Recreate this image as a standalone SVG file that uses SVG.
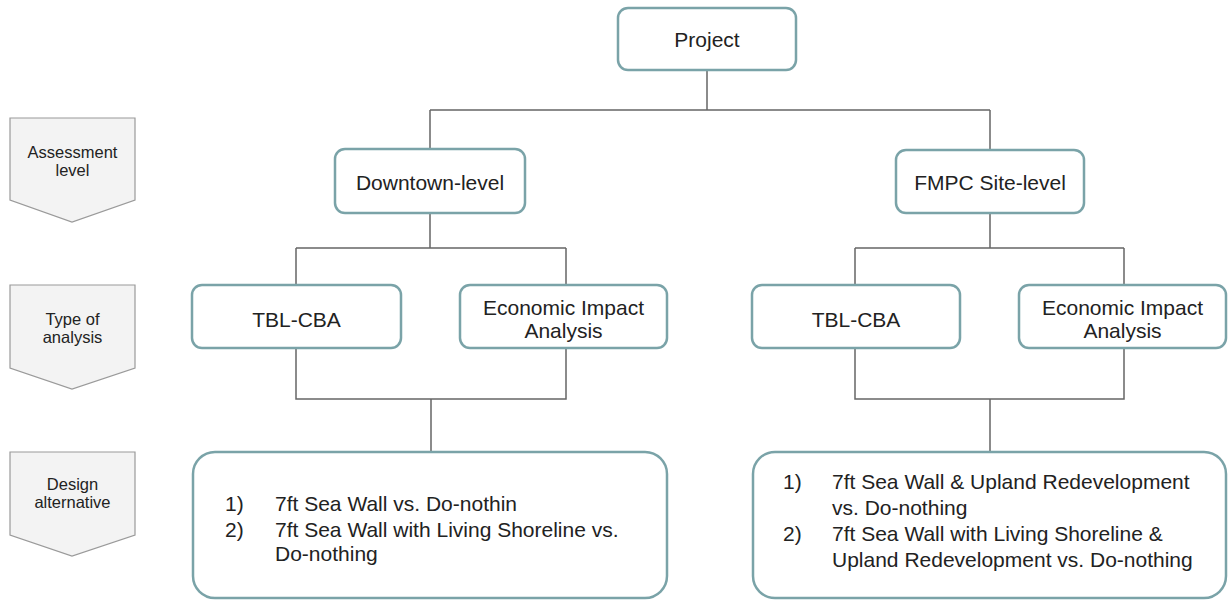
<svg xmlns="http://www.w3.org/2000/svg" width="1228" height="603" viewBox="0 0 1228 603">
<style>
.node{fill:#ffffff;stroke:#7aa3a8;stroke-width:2.5}
.lvl{fill:#f3f3f3;stroke:#9a9a9a;stroke-width:1.2}
.conn{fill:none;stroke:#666666;stroke-width:1.5}
text{font-family:"Liberation Sans",Arial,sans-serif;fill:#222222}
.t{font-size:21px;text-anchor:middle}
.l{font-size:16.5px;text-anchor:middle}
.b{font-size:21px}
</style>
<rect width="1228" height="603" fill="#ffffff"/>
<g id="connectors">
<path class="conn" d="M707 70V110M430 110H990M430 110V149M990 110V150"/>
<path class="conn" d="M430 213V248M296 248H566M296 248V285M566 248V285"/>
<path class="conn" d="M990 213V248M855 248H1124M855 248V285M1124 248V285"/>
<path class="conn" d="M296 348V399H566V348M431 399V452"/>
<path class="conn" d="M855 348V399H1124V348M990 399V452"/>
</g>
<g id="level-assessment">
<polygon class="lvl" points="10,118 135,118 135,200 72,222 10,200"/>
<text class="l" x="72.5" y="158">Assessment</text>
<text class="l" x="72.5" y="176">level</text>
</g>
<g id="level-type">
<polygon class="lvl" points="10,285 135,285 135,368 72,389 10,368"/>
<text class="l" x="72.5" y="325">Type of</text>
<text class="l" x="72.5" y="343">analysis</text>
</g>
<g id="level-design">
<polygon class="lvl" points="10,452 135,452 135,535 72,556 10,535"/>
<text class="l" x="72.5" y="490">Design</text>
<text class="l" x="72.5" y="508">alternative</text>
</g>
<g id="project">
<rect class="node" x="618" y="8" width="178" height="62" rx="10"/>
<text class="t" x="707" y="47">Project</text>
</g>
<g id="downtown">
<rect class="node" x="335" y="149" width="190" height="64" rx="10"/>
<text class="t" x="430" y="190">Downtown-level</text>
</g>
<g id="fmpc">
<rect class="node" x="896" y="150" width="188" height="63" rx="10"/>
<text class="t" x="990" y="190">FMPC Site-level</text>
</g>
<g id="tbl-left">
<rect class="node" x="192" y="285" width="209" height="63" rx="10"/>
<text class="t" x="296.5" y="327">TBL-CBA</text>
</g>
<g id="eia-left">
<rect class="node" x="460" y="285" width="207" height="63" rx="10"/>
<text class="t" x="563.5" y="315">Economic Impact</text>
<text class="t" x="563.5" y="338">Analysis</text>
</g>
<g id="tbl-right">
<rect class="node" x="752" y="285" width="208" height="63" rx="10"/>
<text class="t" x="856" y="327">TBL-CBA</text>
</g>
<g id="eia-right">
<rect class="node" x="1019" y="285" width="207" height="63" rx="10"/>
<text class="t" x="1122.5" y="315">Economic Impact</text>
<text class="t" x="1122.5" y="338">Analysis</text>
</g>
<g id="design-left">
<rect class="node" x="193" y="452" width="474" height="146" rx="22"/>
<text class="b" x="225" y="511">1)</text>
<text class="b" x="275" y="511">7ft Sea Wall vs. Do-nothin</text>
<text class="b" x="225" y="537">2)</text>
<text class="b" x="275" y="537">7ft Sea Wall with Living Shoreline vs.</text>
<text class="b" x="275" y="561">Do-nothing</text>
</g>
<g id="design-right">
<rect class="node" x="753" y="452" width="473" height="146" rx="22"/>
<text class="b" x="783" y="489">1)</text>
<text class="b" x="832" y="489">7ft Sea Wall &amp; Upland Redevelopment</text>
<text class="b" x="832" y="515">vs. Do-nothing</text>
<text class="b" x="783" y="541">2)</text>
<text class="b" x="832" y="541">7ft Sea Wall with Living Shoreline &amp;</text>
<text class="b" x="832" y="567">Upland Redevelopment vs. Do-nothing</text>
</g>
</svg>
